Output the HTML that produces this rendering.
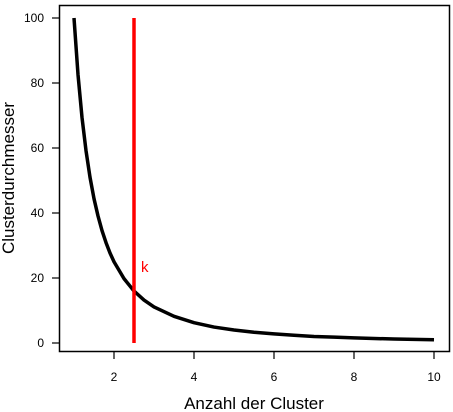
<!DOCTYPE html>
<html><head><meta charset="utf-8"><style>
html,body{margin:0;padding:0;background:#fff;}
svg{display:block;font-family:"Liberation Sans",sans-serif;}
</style></head><body>
<svg id="chart" width="453" height="412">
<rect x="59.5" y="5.5" width="390" height="346" fill="none" stroke="#000" stroke-width="1.5"/>
<g id="xaxis"></g>
<g id="yaxis"></g>
<g id="marks"></g>
<text x="254" y="409" font-size="17" text-anchor="middle">Anzahl der Cluster</text>
<text transform="translate(14,178) rotate(-90)" font-size="17" text-anchor="middle">Clusterdurchmesser</text>
</svg>
<script>
const xTicks=[2,4,6,8,10];
const yTicks=[0,20,40,60,80,100];
const xs=[1,1.1,1.2,1.3,1.4,1.5,1.6,1.7,1.8,1.9,2,2.25,2.5,2.75,3,3.5,4,4.5,5,5.5,6,6.5,7,7.5,8,8.5,9,9.5,10];
const ys=[100,82.6,69.4,59.2,51,44.4,39.1,34.6,30.9,27.7,25,19.8,16,13.2,11.1,8.2,6.25,4.9,4,3.3,2.8,2.4,2.0,1.8,1.56,1.38,1.23,1.1,1];
const kX=2.5;
const kRange=[0,100];
const sx=v=>74+(v-1)*40;
const sy=v=>343-v*3.25;
const NS="http://www.w3.org/2000/svg";
function mk(t,a,p){const e=document.createElementNS(NS,t);for(const k in a)e.setAttribute(k,a[k]);p.appendChild(e);return e;}
const xa=document.getElementById('xaxis'),ya=document.getElementById('yaxis'),m=document.getElementById('marks');
xTicks.forEach(v=>{
 const l=mk('line',{x1:sx(v),x2:sx(v),y1:352,y2:359,stroke:'#000','stroke-width':1.2},xa);
 
 
 const t=mk('text',{x:sx(v),y:381,'font-size':12,'text-anchor':'middle'},xa);
 
 
 t.textContent=v;
});
yTicks.forEach(v=>{
 const l=mk('line',{x1:52,x2:59.5,y1:sy(v),y2:sy(v),stroke:'#000','stroke-width':1.2},ya);
 
 
 const t=mk('text',{x:44,y:sy(v)+4,'font-size':12,'text-anchor':'end'},ya);
 
 
 t.textContent=v;
});
const p=mk('polyline',{points:xs.map((x,i)=>sx(x)+','+sy(ys[i])).join(' '),fill:'none',stroke:'#000','stroke-width':3.5,'stroke-linejoin':'round'},m);


const r=mk('line',{x1:sx(kX),x2:sx(kX),y1:sy(kRange[0]),y2:sy(kRange[1]),stroke:'#ff0000','stroke-width':3.5},m);


const kt=mk('text',{x:sx(kX)+7,y:272,'font-size':15,fill:'#ff0000'},m);


kt.textContent='k';
</script>
</body></html>
